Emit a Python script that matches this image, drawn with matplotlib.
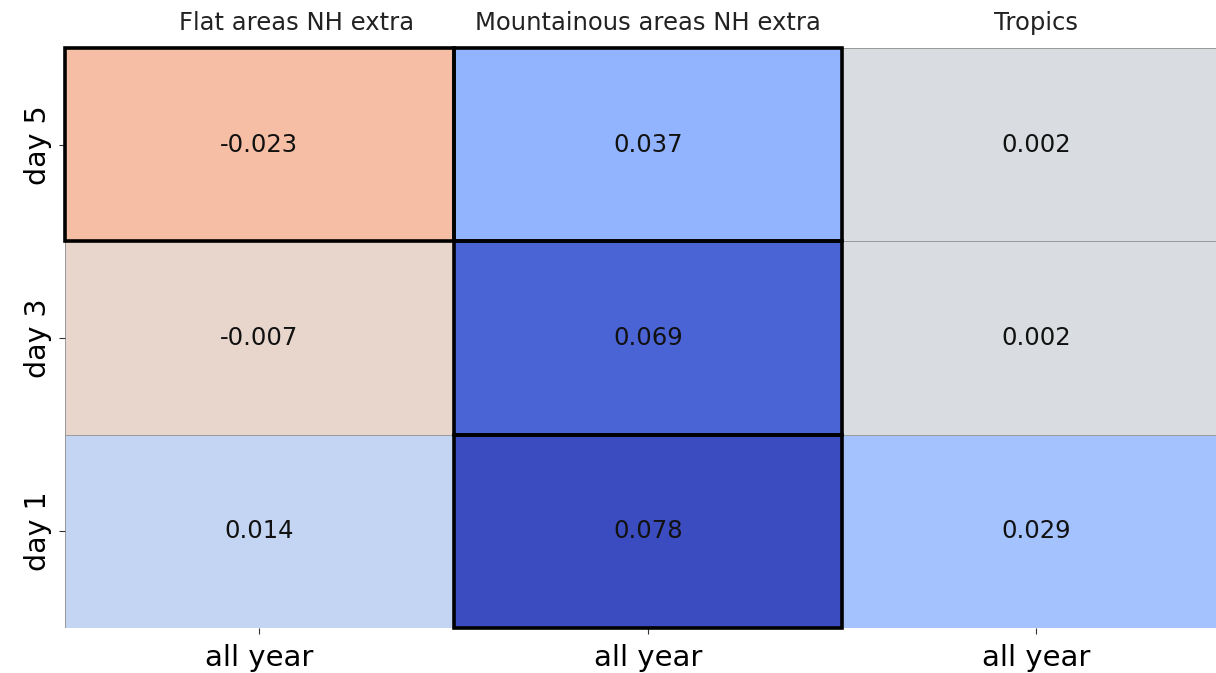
import numpy as np
import matplotlib
matplotlib.use("Agg")
import matplotlib.pyplot as plt
import seaborn as sns
from matplotlib.patches import Rectangle

# Scores per region (columns) and lead time (rows, top to bottom)
regions = ["Flat areas NH extra", "Mountainous areas NH extra", "Tropics"]
lead_times = ["day 5", "day 3", "day 1"]
season_labels = ["all year", "all year", "all year"]
flat_vals = [-0.023, -0.007, 0.014]
mount_vals = [0.037, 0.069, 0.078]
tropics_vals = [0.002, 0.002, 0.029]
# Cells flagged as significant (row index, column index)
significant = [(0, 0), (0, 1), (1, 1), (2, 1)]

data = np.column_stack([flat_vals, mount_vals, tropics_vals])
vmax = np.abs(data).max()

fig = plt.figure(figsize=(12.16, 6.73), dpi=100)
ax = fig.add_axes([65 / 1216, 1 - 628 / 673, 3 * 388.5 / 1216, 580 / 673])

sns.heatmap(data, ax=ax, cmap="coolwarm_r", center=0, vmin=-vmax, vmax=vmax,
            annot=True, fmt=".3f", annot_kws={"color": "#111111", "fontsize": 17.5},
            linewidths=0.6, linecolor="#9a9a9a", cbar=False)

ax.set_xticks(np.arange(len(regions)) + 0.5)
ax.set_xticklabels(season_labels, fontsize=21, rotation=0)
ax.set_yticks(np.arange(len(lead_times)) + 0.5)
ax.set_yticklabels(lead_times, fontsize=20.5, rotation=90, va="center")
ax.tick_params(axis="both", length=4.5, width=0.8, color="#333333")
ax.tick_params(axis="x", pad=7)
ax.tick_params(axis="y", pad=5)

# Column headings; the first one sits a little right of its column centre
title_x = [0.595, 0.5, 0.5]
for j, name in enumerate(regions):
    ax.text(j + title_x[j], -0.065, name, ha="center", va="bottom",
            fontsize=17.5, color="#222222")

for (r, c) in significant:
    ax.add_patch(Rectangle((c, r), 1, 1, fill=False, edgecolor="black",
                           linewidth=2.6, clip_on=False, zorder=5))

fig.savefig("out.png", dpi=100)
